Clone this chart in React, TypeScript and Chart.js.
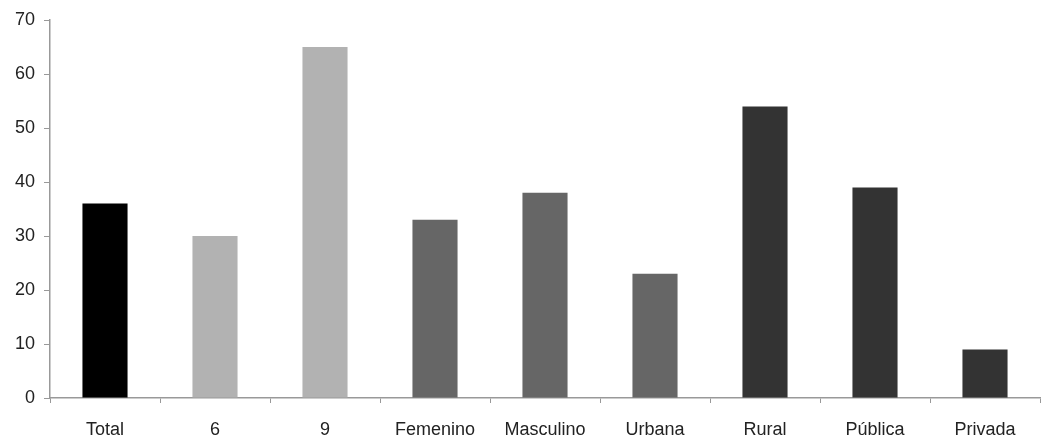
import React, { useEffect, useRef } from "react";
import { Chart, registerables } from "chart.js";

Chart.register(...registerables);

const categories = ["Total", "6", "9", "Femenino", "Masculino", "Urbana", "Rural", "Pública", "Privada"];
const values = [36, 30, 65, 33, 38, 23, 54, 39, 9];
const barColors = ["#000000", "#b2b2b2", "#b2b2b2", "#666666", "#666666", "#666666", "#333333", "#333333", "#333333"];
const yTicks = [0, 10, 20, 30, 40, 50, 60, 70];

export default function App() {
  const ref = useRef<HTMLCanvasElement | null>(null);
  useEffect(() => {
    document.body.style.margin = "0";
    const ctx = ref.current!;
    const chart = new Chart(ctx, {
      type: "bar",
      data: {
        labels: categories,
        datasets: [
          {
            data: values,
            backgroundColor: barColors,
            borderWidth: 0,
            barPercentage: 0.41,
            categoryPercentage: 1,
          },
        ],
      },
      options: {
        animation: false,
        responsive: false,
        maintainAspectRatio: false,
        layout: { padding: { top: 20, right: 2, left: 0, bottom: 0 } },
        plugins: { legend: { display: false }, tooltip: { enabled: false } },
        scales: {
          x: {
            grid: {
              offset: true,
              drawOnChartArea: false,
              drawTicks: true,
              tickLength: 5,
              color: "#999999",
            },
            border: { display: true, color: "#999999", width: 1.5 },
            ticks: {
              color: "#222222",
              font: { family: "Liberation Sans, Arial, sans-serif", size: 18 },
              padding: 16,
              maxRotation: 0,
              autoSkip: false,
            },
            afterFit: (s: any) => {
              s.height = 41;
            },
          },
          y: {
            min: 0,
            max: 70,
            afterBuildTicks: (s: any) => {
              s.ticks = yTicks.map((v) => ({ value: v }));
            },
            grid: {
              drawOnChartArea: false,
              drawTicks: true,
              tickLength: 6,
              color: "#999999",
            },
            border: { display: true, color: "#999999", width: 1.5 },
            ticks: {
              color: "#222222",
              font: { family: "Liberation Sans, Arial, sans-serif", size: 18 },
              padding: 9,
            },
            afterFit: (s: any) => {
              s.width = 50;
            },
          },
        },
      },
    });
    return () => chart.destroy();
  }, []);
  return (
    <div style={{ width: 1042, height: 439 }}>
      <canvas ref={ref} width={1042} height={439} style={{ display: "block" }} />
    </div>
  );
}
